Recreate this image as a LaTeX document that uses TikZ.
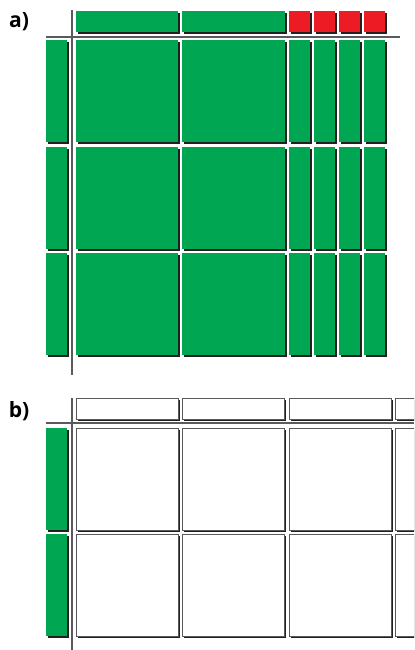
\documentclass[tikz,border=0pt]{standalone}
\usepackage{fontspec}
\setsansfont{Open Sans}
\usepackage{tikz}
\usetikzlibrary{shadows}
\definecolor{vertMatrice}{RGB}{0,166,81}
\definecolor{rougeMatrice}{RGB}{237,28,36}
\definecolor{ombreNoire}{RGB}{35,31,32}
\definecolor{traitGris}{RGB}{90,90,92}

\tikzset{
  cellule/.style={inner sep=0pt, outer sep=0pt, anchor=north west,
    drop shadow={shadow xshift=1.1mm, shadow yshift=-1.1mm, fill=ombreNoire, opacity=1}},
  celluleVerte/.style={cellule, fill=vertMatrice},
  celluleBlanche/.style={cellule, fill=white, draw=traitGris, line width=0.35mm},
  axe/.style={draw=traitGris, line width=0.55mm},
  etiquette/.style={font=\sffamily\bfseries\fontsize{30}{30}\selectfont, inner sep=0pt}
}

\begin{document}
\begin{tikzpicture}[x=0.5mm, y=-0.5mm]

\clip (0,0) rectangle (414,650);

% a) matrice complete
\node[etiquette] (labelA) at (19,22) {a)};

\foreach \col/\x/\w/\c in {1/76/51/vertMatrice, 2/182/51.5/vertMatrice,
    3/289/10.5/rougeMatrice, 4/314/10.5/rougeMatrice,
    5/339/10.5/rougeMatrice, 6/364/10.5/rougeMatrice}
  \node[cellule, fill=\c, minimum width=\w mm, minimum height=10.5mm] (a-h\col) at (\x,11) {};

\foreach \ligne/\y in {1/40, 2/146.5, 3/253} {
  \node[celluleVerte, minimum width=10.5mm, minimum height=51mm] (a-g\ligne) at (46,\y) {};
  \foreach \col/\x/\w in {1/76/51, 2/182/51.5, 3/289/10.5, 4/314/10.5, 5/339/10.5, 6/364/10.5}
    \node[celluleVerte, minimum width=\w mm, minimum height=51mm] (a-\ligne-\col) at (\x,\y) {};
}

\coordinate (aHaut) at (72,10);
\coordinate (aBas) at (72,375);
\coordinate (aGauche) at (46,37);
\coordinate (aDroite) at (400,37);
\draw[axe] (aHaut) -- (aBas);
\draw[axe] (aGauche) -- (aDroite);

% b) matrice vide
\node[etiquette] (labelB) at (19,411) {b)};

\foreach \col/\x in {1/76, 2/182, 3/289, 4/395}
  \node[celluleBlanche, minimum width=51mm, minimum height=10.5mm] (b-h\col) at (\x,398) {};

\foreach \ligne/\y in {1/428, 2/534} {
  \node[celluleVerte, minimum width=10.5mm, minimum height=51mm] (b-g\ligne) at (46,\y) {};
  \foreach \col/\x in {1/76, 2/182, 3/289, 4/395}
    \node[celluleBlanche, minimum width=51mm, minimum height=51mm] (b-\ligne-\col) at (\x,\y) {};
}

\coordinate (bHaut) at (72,398);
\coordinate (bBas) at (72,650);
\coordinate (bGauche) at (46,423);
\coordinate (bDroite) at (414,423);
\draw[axe] (bHaut) -- (bBas);
\draw[axe] (bGauche) -- (bDroite);

\end{tikzpicture}
\end{document}
